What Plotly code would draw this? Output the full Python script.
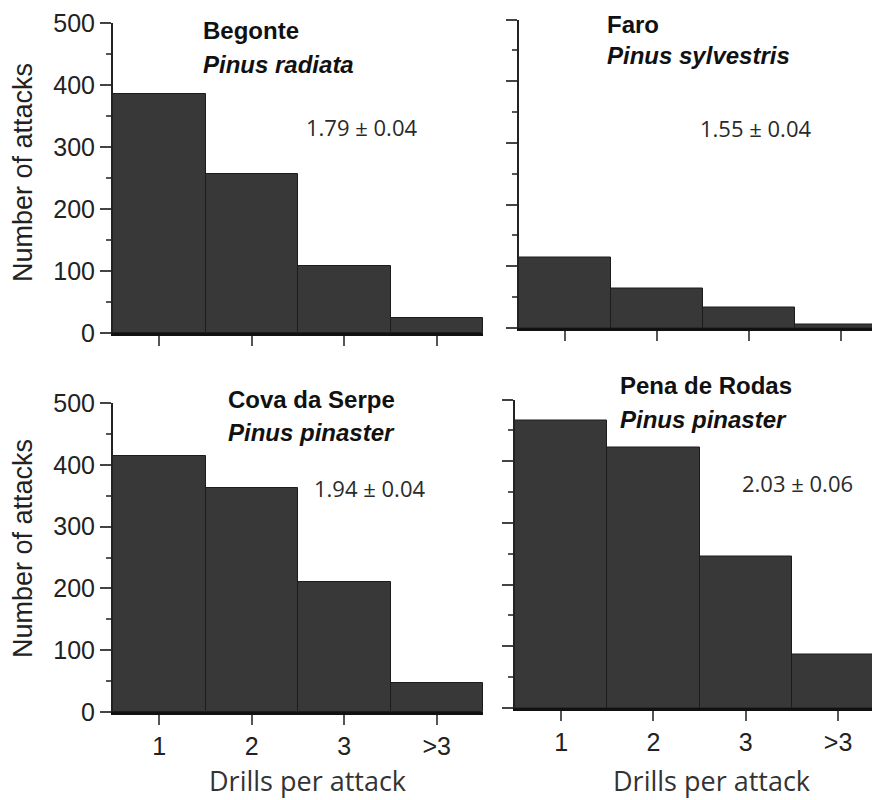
import plotly.graph_objects as go

categories = ["1", "2", "3", ">3"]
begonte = [386, 257, 108, 25]
faro = [114, 64, 33, 5]
cova = [415, 362, 211, 47]
pena = [466, 422, 246, 86]

site_names = ["Begonte", "Faro", "Cova da Serpe", "Pena de Rodas"]
species = ["Pinus radiata", "Pinus sylvestris", "Pinus pinaster", "Pinus pinaster"]
means = ["1.79 ± 0.04", "1.55 ± 0.04", "1.94 ± 0.04", "2.03 ± 0.06"]
y_ticks = [0, 100, 200, 300, 400, 500]
x_title = "Drills per attack"
y_title = "Number of attacks"

# page body has an 8px margin; figure is sized to fit the visible window
OFF = 8
W, H = 880 - OFF, 800 - OFF
def px(x): return (x - OFF) / W
def py(y): return 1 - (y - OFF) / H

# panel geometry in reference pixels: (x_left, x_right, y_zero, y_500, x_range_end)
panels = [
    (113, 483, 333, 23, 3.5),
    (519, 880, 328, 19.5, -0.5 + 361 / 92.0),
    (113, 483, 712, 403, 3.5),
    (515, 880, 708, 399.5, -0.5 + 365 / 92.3),
]
series = [begonte, faro, cova, pena]

fig = go.Figure()
axis_font = dict(family="Liberation Sans, Arial, sans-serif", size=25, color="#222")

for i, (vals, geo) in enumerate(zip(series, panels)):
    xl, xr, y0, y5, xend = geo
    n = i + 1
    xa = "x" if n == 1 else f"x{n}"
    ya = "y" if n == 1 else f"y{n}"
    fig.add_trace(go.Bar(
        x=categories, y=vals, xaxis=xa, yaxis=ya,
        marker=dict(color="#383838", line=dict(color="#1c1c1c", width=1)),
        showlegend=False, hoverinfo="skip",
    ))
    xkey = "xaxis" if n == 1 else f"xaxis{n}"
    ykey = "yaxis" if n == 1 else f"yaxis{n}"
    bottom = i >= 2
    left = i % 2 == 0
    fig.update_layout(**{
        xkey: dict(
            domain=[px(xl), min(px(xr), 1.0)], anchor=ya, type="category",
            range=[-0.5, xend], showgrid=False, zeroline=False, automargin=False,
            showline=True, linecolor="#111", linewidth=3,
            ticks="outside", ticklen=10, tickwidth=1.5, tickcolor="#555",
            showticklabels=bottom, tickfont=axis_font,
        ),
        ykey: dict(
            domain=[py(y0), py(y5)], anchor=xa, range=[0, 500],
            tickvals=y_ticks, showgrid=False, zeroline=False, automargin=False,
            showline=True, linecolor="#222", linewidth=2,
            ticks="outside", ticklen=11, tickwidth=1.5, tickcolor="#444",
            minor=dict(dtick=50, ticks="outside", ticklen=5, tickwidth=1.5, tickcolor="#555"),
            showticklabels=left, tickfont=axis_font,
        ),
    })

ann = []
title_pos = [(202, 30, 64), (606, 24, 56), (227, 399, 432), (619, 385, 419)]
for name, sp, (tx, ty1, ty2) in zip(site_names, species, title_pos):
    ann.append(dict(x=px(tx), y=py(ty1), xref="paper", yref="paper", text=f"<b>{name}</b>",
                    xanchor="left", yanchor="middle", showarrow=False, borderpad=0,
                    font=dict(family="Liberation Sans, Arial, sans-serif", size=24, color="#111")))
    ann.append(dict(x=px(tx), y=py(ty2), xref="paper", yref="paper", text=f"<b><i>{sp}</i></b>",
                    xanchor="left", yanchor="middle", showarrow=False, borderpad=0,
                    font=dict(family="Liberation Sans, Arial, sans-serif", size=24, color="#111")))

mean_pos = [(361, 127), (755, 128), (369, 488), (797, 483)]
for m, (mx, my) in zip(means, mean_pos):
    ann.append(dict(x=px(mx), y=py(my), xref="paper", yref="paper", text=m,
                    xanchor="center", yanchor="middle", showarrow=False,
                    font=dict(family="Open Sans, sans-serif", size=22, color="#2a2a2a")))

for (cx, cy) in [(23, 173), (23, 549)]:
    ann.append(dict(x=px(cx), y=py(cy), xref="paper", yref="paper", text=y_title,
                    xanchor="center", yanchor="middle", showarrow=False, textangle=-90,
                    font=dict(family="Liberation Sans, Arial, sans-serif", size=27, color="#222")))

for cx in [307, 711]:
    ann.append(dict(x=px(cx), y=0, xref="paper", yref="paper", text=x_title,
                    xanchor="center", yanchor="bottom", showarrow=False, borderpad=0,
                    font=dict(family="Open Sans, sans-serif", size=27, color="#333")))

fig.update_layout(
    width=W, height=H, margin=dict(l=0, r=0, t=0, b=0, autoexpand=False),
    paper_bgcolor="white", plot_bgcolor="white",
    bargap=0, annotations=ann,
)

fig.write_html("out.html")
